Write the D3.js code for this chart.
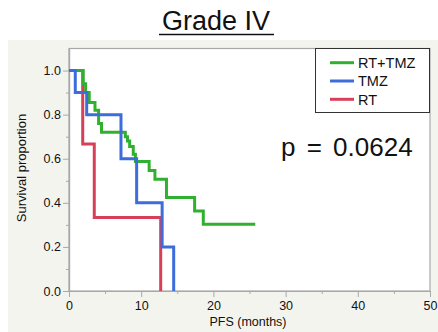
<!DOCTYPE html>
<html>
<head>
<meta charset="utf-8">
<script src="https://cdn.jsdelivr.net/npm/d3@7"></script>
<style>
  html, body { margin: 0; padding: 0; background: #fff; }
  svg { display: block; font-family: "Liberation Sans", Arial, sans-serif; }
</style>
</head>
<body>
<div id="container"></div>
<script>
// series: time in months, survival proportion (step after)
const rtTmzTime = [0, 1.97, 2.3, 2.8, 3.6, 4.1, 4.5, 7.8, 8.1, 8.4, 8.9, 9.2, 11.1, 11.9, 13.5, 17.4, 18.6, 25.8];
const rtTmzSurv = [1.0, 0.94, 0.90, 0.855, 0.82, 0.76, 0.72, 0.70, 0.68, 0.655, 0.62, 0.587, 0.547, 0.507, 0.424, 0.363, 0.303, 0.303];

const tmzTime = [0, 0.87, 2.45, 7.2, 9.37, 12.9, 14.5];
const tmzSurv = [1.0, 0.9, 0.8, 0.6, 0.4, 0.2, 0.0];

const rtTime = [0, 1.9, 3.5, 12.7];
const rtSurv = [1.0, 0.667, 0.333, 0.0];

const legendLabels = ["RT+TMZ", "TMZ", "RT"];
const xTicks = [0, 10, 20, 30, 40, 50];
const yTicks = [0, 0.2, 0.4, 0.6, 0.8, 1.0];

const colGreen = "#2fb12f";
const colBlue = "#3d6ddb";
const colRed = "#d8405a";

let w = 438;
let h = 332;

let svg = d3.select("#container")
  .append("svg")
    .attr("width", w)
    .attr("height", h);

// grey panel
svg.append("rect")
  .attr("x", 8).attr("y", 40)
  .attr("width", w - 8).attr("height", h - 40)
  .attr("fill", "#f4f4ef");

let x = d3.scaleLinear().domain([0, 50]).range([69, 430]);
let y = d3.scaleLinear().domain([0, 1.1]).range([291, 48.5]);

// plot area
svg.append("rect")
  .attr("x", x(0)).attr("y", y(1.1))
  .attr("width", x(50) - x(0)).attr("height", y(0) - y(1.1))
  .attr("fill", "#fff")
  .attr("stroke", "#a8a8a8")
  .attr("stroke-width", 1.2);

// title
svg.append("text")
  .attr("x", 216).attr("y", 30)
  .attr("text-anchor", "middle")
  .attr("font-size", 27)
  .attr("fill", "#111")
  .text("Grade IV");
svg.append("line")
  .attr("x1", 159).attr("x2", 274)
  .attr("y1", 34.5).attr("y2", 34.5)
  .attr("stroke", "#111").attr("stroke-width", 1.5);

// axes
let xAxis = d3.axisBottom(x).tickValues(xTicks).tickSize(6).tickSizeOuter(0).tickFormat(d3.format("d"));
let gx = svg.append("g").attr("transform", `translate(0,${y(0)})`).call(xAxis);
let xMinor = d3.axisBottom(x).tickValues([5, 15, 25, 35, 45]).tickSize(3).tickSizeOuter(0).tickFormat("");
let gxm = svg.append("g").attr("transform", `translate(0,${y(0)})`).call(xMinor);

let yAxis = d3.axisLeft(y).tickValues(yTicks).tickSize(6).tickSizeOuter(0).tickFormat(d3.format(".1f"));
let gy = svg.append("g").attr("transform", `translate(${x(0)},0)`).call(yAxis);
let yMinor = d3.axisLeft(y).tickValues([0.1, 0.3, 0.5, 0.7, 0.9]).tickSize(3).tickSizeOuter(0).tickFormat("");
let gym = svg.append("g").attr("transform", `translate(${x(0)},0)`).call(yMinor);

[gx, gxm, gy, gym].forEach(g => {
  g.select(".domain").attr("stroke", "#a8a8a8").attr("stroke-width", 1.2);
  g.selectAll(".tick line").attr("stroke", "#a8a8a8");
  g.selectAll(".tick text")
    .attr("font-size", 12.5)
    .attr("fill", "#111")
    .attr("font-family", "Liberation Sans, Arial, sans-serif");
});
gx.selectAll(".tick text").attr("dy", "0.82em");
gy.selectAll(".tick text").attr("x", -8);

// axis titles
svg.append("text")
  .attr("x", 248).attr("y", 326)
  .attr("text-anchor", "middle")
  .attr("font-size", 12.5)
  .attr("fill", "#111")
  .text("PFS (months)");

svg.append("text")
  .attr("transform", "translate(26,168) rotate(-90)")
  .attr("text-anchor", "middle")
  .attr("font-size", 13)
  .attr("fill", "#111")
  .text("Survival proportion");

// curves
let line = d3.line()
  .x(d => x(d[0]))
  .y(d => y(d[1]))
  .curve(d3.curveStepAfter);

let series = [
  {t: rtTime, s: rtSurv, c: colRed},
  {t: rtTmzTime, s: rtTmzSurv, c: colGreen},
  {t: tmzTime, s: tmzSurv, c: colBlue}
];

series.forEach(sr => {
  let pts = sr.t.map((t, i) => [t, sr.s[i]]);
  svg.append("path")
    .datum(pts)
    .attr("d", line)
    .attr("fill", "none")
    .attr("stroke", sr.c)
    .attr("stroke-width", 3);
});

// legend
let legCols = [colGreen, colBlue, colRed];
svg.append("rect")
  .attr("x", 315.5).attr("y", 48.5)
  .attr("width", 114).attr("height", 64)
  .attr("fill", "#fff")
  .attr("stroke", "#333")
  .attr("stroke-width", 1);

let leg = svg.selectAll(".leg").data(legendLabels).enter()
  .append("g")
  .attr("class", "leg")
  .attr("transform", (d, i) => `translate(0,${62.7 + i * 18.3})`);
leg.append("line")
  .attr("x1", 330).attr("x2", 354)
  .attr("stroke", (d, i) => legCols[i])
  .attr("stroke-width", 3);
leg.append("text")
  .attr("x", 358)
  .attr("dy", "0.36em")
  .attr("font-size", 14.5)
  .attr("fill", "#111")
  .text(d => d);

// p value
svg.append("text")
  .attr("x", 281).attr("y", 156)
  .attr("font-size", 26)
  .attr("word-spacing", 4)
  .attr("fill", "#111")
  .text("p = 0.0624");
</script>
</body>
</html>
